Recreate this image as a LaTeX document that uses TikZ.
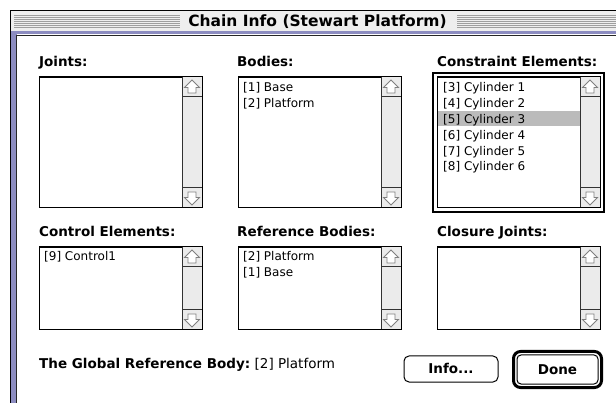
\documentclass[tikz,border=0pt]{standalone}
\usepackage{fontspec}
\setmainfont{DejaVu Sans}
\definecolor{frameblue}{HTML}{8C8CC0}
\definecolor{titlegray}{HTML}{EEEEEE}
\definecolor{stripegray}{HTML}{9E9E9E}
\definecolor{trackgray}{HTML}{EBEBEB}
\definecolor{selgray}{HTML}{BBBBBB}
\definecolor{glyphgray}{HTML}{808080}
\tikzset{
  lbl/.style={anchor=base west, inner sep=0pt, font=\fontsize{13.5}{16}\selectfont\bfseries},
  entry/.style={anchor=base west, inner sep=0pt, font=\fontsize{12}{15}\selectfont},
  listbox/.style={draw=black, line width=1pt, fill=white, anchor=north west, inner sep=0pt, minimum width=162pt},
  sbtrack/.style={fill=trackgray},
  sbline/.style={draw=black!80, line width=1pt},
  sbglyph/.style={draw=glyphgray, fill=white, line width=0.9pt, line join=miter},
  button/.style={draw=black, line width=1pt, rounded corners=5pt, inner sep=0pt,
    text height=9.8pt, text depth=0pt, font=\fontsize{13.5}{16}\selectfont\bfseries},
}
% scroll bar with arrow boxes on the right side of a list box
\newcommand\listscroller[1]{%
  \fill[sbtrack] ([xshift=-20pt]#1.north east) rectangle (#1.south east);
  \draw[sbline] ([xshift=-20pt]#1.north east) -- ([xshift=-20pt]#1.south east);
  \draw[sbline] ([shift={(-20,20)}]#1.north east) -- ([shift={(0,20)}]#1.north east);
  \draw[sbline] ([shift={(-20,-20)}]#1.south east) -- ([shift={(0,-20)}]#1.south east);
  \begin{scope}[shift={(#1.north east)}]
    \draw[sbglyph] (-10,3) -- (-2.5,10.5) -- (-6,10.5) -- (-6,16) -- (-14,16) -- (-14,10.5) -- (-17.5,10.5) -- cycle;
  \end{scope}
  \begin{scope}[shift={(#1.south east)}]
    \draw[sbglyph] (-10,-3) -- (-2.5,-10.5) -- (-6,-10.5) -- (-6,-16) -- (-14,-16) -- (-14,-10.5) -- (-17.5,-10.5) -- cycle;
  \end{scope}
  \draw[line width=1pt] (#1.north west) rectangle (#1.south east);
}
\begin{document}
\begin{tikzpicture}[x=1pt, y=-1pt]
\useasboundingbox (0,0) rectangle (616,403);
\fill[white] (0,0) rectangle (616,403);

% window title bar
\fill[titlegray] (10,10) rectangle (616,32);
\foreach \y in {15.5,17.5,...,27.5} {
  \draw[stripegray, line width=1pt] (14,\y) -- (180,\y);
  \draw[stripegray, line width=1pt] (457,\y) -- (616,\y);
}
\fill[frameblue] (10,31.5) rectangle (616,34.5);
\draw[black!85, line width=0.8pt] (16,35) -- (616,35);
\node[inner sep=0pt, font=\fontsize{15.5}{18}\selectfont\bfseries] (title) at (317.5,22) {Chain Info (Stewart Platform)};

% window left frame
\fill[frameblue] (10,31.5) rectangle (16.5,403);
\draw[black, line width=1pt] (10.5,403) -- (10.5,10.5) -- (616,10.5);
\draw[black!85, line width=0.8pt] (16.5,35) -- (16.5,403);

% list boxes
\node[listbox, minimum height=130pt] (joints) at (39,77) {};
\node[listbox, minimum height=130pt] (bodies) at (238,77) {};
\node[listbox, minimum height=130pt] (constraints) at (437,77) {};
\node[listbox, minimum height=82pt] (controls) at (39,247) {};
\node[listbox, minimum height=82pt] (refbodies) at (238,247) {};
\node[listbox, minimum height=82pt] (closure) at (437,247) {};

% selected row
\fill[selgray] (437.5,111) rectangle (580.5,126.5);

\listscroller{joints}
\listscroller{bodies}
\listscroller{constraints}
\listscroller{controls}
\listscroller{refbodies}
\listscroller{closure}

% active list frame
\draw[line width=2.5pt] ([shift={(-4,-4)}]constraints.north west) rectangle ([shift={(4,4)}]constraints.south east);

% headings
\node[lbl] (jointsLbl) at (39,66.7) {Joints:};
\node[lbl] (bodiesLbl) at (237,66.7) {Bodies:};
\node[lbl] (constraintsLbl) at (437,66.7) {Constraint Elements:};
\node[lbl] (controlsLbl) at (39,237) {Control Elements:};
\node[lbl] (refbodiesLbl) at (237,237) {Reference Bodies:};
\node[lbl] (closureLbl) at (437,237) {Closure Joints:};

% entries
\node[entry] (b1) at (243,92) {[1] Base};
\node[entry] (b2) at (243,107.8) {[2] Platform};
\node[entry] (c1) at (443,92) {[3] Cylinder 1};
\node[entry] (c2) at (443,107.8) {[4] Cylinder 2};
\node[entry] (c3) at (443,123.6) {[5] Cylinder 3};
\node[entry] (c4) at (443,139.4) {[6] Cylinder 4};
\node[entry] (c5) at (443,155.2) {[7] Cylinder 5};
\node[entry] (c6) at (443,171) {[8] Cylinder 6};
\node[entry] (ctl1) at (44,261) {[9] Control1};
\node[entry] (r1) at (243,261) {[2] Platform};
\node[entry] (r2) at (243,277) {[1] Base};

% global reference body
\node[lbl] (globalLbl) at (39,368) {The Global Reference Body:};
\node[anchor=base west, inner sep=0pt, font=\fontsize{13.5}{16}\selectfont] (globalVal) at ([xshift=4pt]globalLbl.base east) {[2] Platform};

% buttons
\node[button, minimum width=94pt, minimum height=26pt] (info) at (451,369) {Info...};
\node[button, rounded corners=4pt, minimum width=81pt, minimum height=29pt] (done) at (557.5,369.5) {Done};
\draw[line width=3pt, rounded corners=7pt] ([shift={(-3,-3)}]done.north west) rectangle ([shift={(3,3)}]done.south east);
\end{tikzpicture}
\end{document}
